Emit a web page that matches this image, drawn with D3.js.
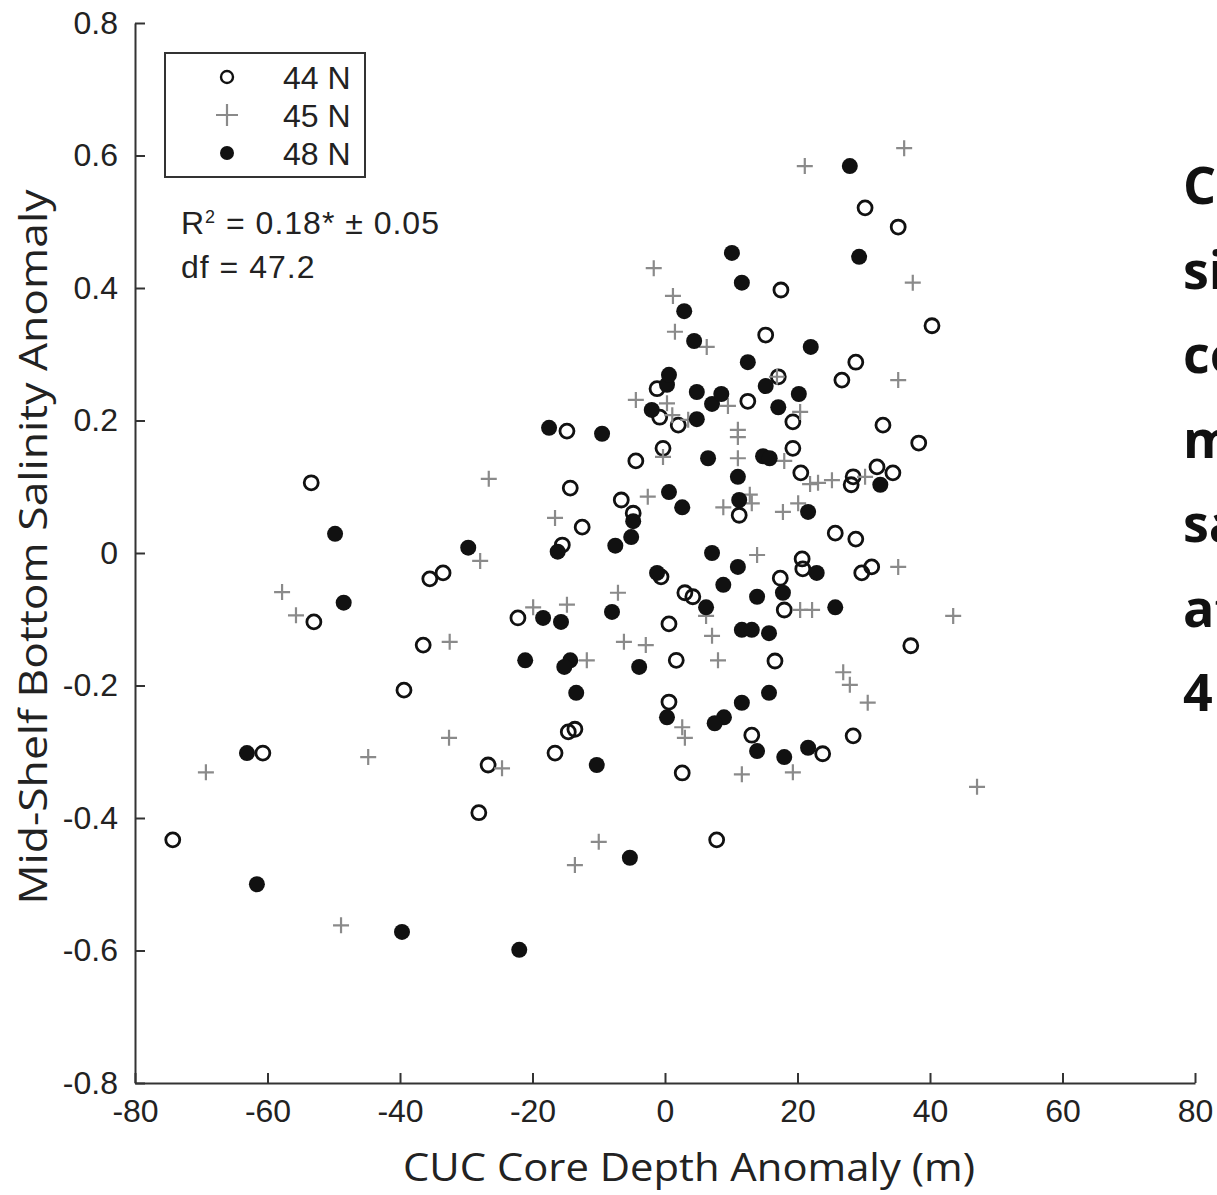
<!DOCTYPE html>
<html>
<head>
<meta charset="utf-8">
<script src="https://cdn.jsdelivr.net/npm/d3@7"></script>
<style>
  body { margin: 0; background: #fff; }
  svg { display: block; }
</style>
</head>
<body>
<svg id="grafico" width="1217" height="1195"></svg>
<script>
// 44 N (open circles)
var depth44 = [-53.4,-53.0,-35.5,-33.5,-36.5,-39.4,-60.7,-26.7,-28.1,-74.3,-22.2,-14.3,-12.5,-15.5,-14.8,-6.6,-4.8,-4.4,-0.3,-0.6,3.0,4.2,0.6,1.7,0.6,2.6,-14.6,-13.6,-16.6,-1.2,-0.8,2.0,12.5,19.3,17.1,15.2,17.5,19.3,20.5,11.2,20.7,20.8,17.4,18.0,16.6,13.1,23.8,28.4,37.1,29.7,31.2,25.7,28.8,28.1,28.4,32.0,34.4,32.9,38.3,26.7,28.8,40.3,30.2,35.2,7.8];
var sal44 = [0.106,-0.104,-0.039,-0.030,-0.139,-0.207,-0.302,-0.320,-0.392,-0.433,-0.098,0.098,0.039,0.012,0.184,0.080,0.060,0.139,0.158,-0.036,-0.060,-0.066,-0.107,-0.162,-0.225,-0.332,-0.270,-0.266,-0.302,0.248,0.205,0.193,0.229,0.198,0.266,0.329,0.397,0.158,0.121,0.057,-0.009,-0.024,-0.038,-0.086,-0.163,-0.275,-0.303,-0.276,-0.140,-0.030,-0.021,0.030,0.021,0.103,0.115,0.130,0.121,0.193,0.166,0.261,0.288,0.343,0.521,0.492,-0.433];

// 45 N (grey plus)
var depth45 = [-26.6,-27.9,-57.8,-55.7,-32.5,-32.6,-69.3,-44.8,-24.6,-48.9,-16.6,-19.9,-14.8,-11.8,-7.1,-6.2,-2.9,-2.6,-13.6,-10.0,2.6,3.0,11.6,19.3,7.1,8.0,6.2,13.9,20.4,22.2,26.9,27.9,30.6,35.2,43.5,47.1,8.8,12.8,13.1,17.8,20.1,18.0,11.0,11.0,11.0,-0.3,21.9,23.1,25.2,30.2,20.4,9.5,0.3,1.1,3.5,-4.4,16.9,6.3,1.5,1.2,-1.7,21.1,36.1,37.4,35.2];
var sal45 = [0.112,-0.012,-0.059,-0.094,-0.134,-0.279,-0.331,-0.308,-0.325,-0.562,0.053,-0.082,-0.078,-0.162,-0.060,-0.134,-0.139,0.085,-0.471,-0.436,-0.263,-0.279,-0.334,-0.331,-0.125,-0.162,-0.095,-0.003,-0.086,-0.086,-0.180,-0.199,-0.226,-0.021,-0.095,-0.353,0.069,0.088,0.075,0.062,0.075,0.139,0.143,0.186,0.175,0.145,0.104,0.106,0.110,0.115,0.213,0.222,0.226,0.208,0.201,0.231,0.266,0.311,0.334,0.388,0.430,0.584,0.611,0.408,0.261];

// 48 N (filled circles)
var depth48 = [-49.8,-48.5,-29.7,-63.1,-61.6,-39.7,-22.0,-17.5,-9.5,-16.2,-7.5,-5.1,-4.8,-21.1,-14.3,-15.2,-18.4,-15.7,-13.4,-10.3,-8.0,-3.9,-5.3,-1.2,0.6,2.6,7.1,11.0,8.8,6.2,13.9,17.8,22.9,11.6,13.1,15.7,25.7,15.7,11.6,0.3,8.9,7.5,13.9,18.0,21.6,11.2,21.6,11.0,6.5,14.8,15.8,-2.0,4.8,7.1,17.1,20.2,15.2,8.5,4.8,0.3,0.6,12.5,22.0,4.4,2.9,10.1,11.6,29.3,27.9,32.5];
var sal48 = [0.029,-0.075,0.008,-0.302,-0.500,-0.572,-0.599,0.189,0.180,0.002,0.011,0.024,0.048,-0.162,-0.162,-0.172,-0.098,-0.104,-0.211,-0.320,-0.089,-0.172,-0.460,-0.030,0.092,0.069,0.000,-0.021,-0.048,-0.082,-0.066,-0.060,-0.030,-0.116,-0.116,-0.121,-0.082,-0.211,-0.226,-0.248,-0.248,-0.257,-0.299,-0.308,-0.294,0.080,0.062,0.115,0.143,0.146,0.143,0.216,0.202,0.225,0.220,0.240,0.252,0.240,0.243,0.254,0.269,0.288,0.311,0.320,0.365,0.453,0.408,0.447,0.584,0.103];

var xTicks = [-80, -60, -40, -20, 0, 20, 40, 60, 80];
var yTicks = [-0.8, -0.6, -0.4, -0.2, 0, 0.2, 0.4, 0.6, 0.8];
var yTickLabels = ["-0.8", "-0.6", "-0.4", "-0.2", "0", "0.2", "0.4", "0.6", "0.8"];
var legendLabels = ["44 N", "45 N", "48 N"];
var statsLines = ["= 0.18* \u00b1 0.05", "df = 47.2"];
var sideText = ["C", "si", "co", "m", "sa", "at", "4"];

var svg = d3.select("#grafico");

var x = d3.scaleLinear().domain([-80, 80]).range([135, 1195]);
var y = d3.scaleLinear().domain([-0.8, 0.8]).range([1083, 23]);

var FONTE = "'Liberation Sans', Arial, sans-serif";
var TAM = "32px";

// eixos
var eixoX = svg.append("g")
    .attr("transform", "translate(0,1083)")
    .call(d3.axisBottom(x).tickValues(xTicks).tickSizeInner(-10).tickSizeOuter(0)
        .tickPadding(16).tickFormat(function(d) { return d; }));
var eixoY = svg.append("g")
    .attr("transform", "translate(135,0)")
    .call(d3.axisLeft(y).tickValues(yTicks).tickSizeInner(-10).tickSizeOuter(0)
        .tickPadding(17).tickFormat(function(d, i) { return yTickLabels[i]; }));

[eixoX, eixoY].forEach(function(eixo) {
    eixo.select(".domain").attr("stroke", "#333").attr("stroke-width", 2);
    eixo.selectAll(".tick line").attr("stroke", "#333").attr("stroke-width", 2);
    eixo.selectAll(".tick text")
        .attr("fill", "#222")
        .style("font-family", FONTE)
        .style("font-size", TAM);
});
eixoX.selectAll(".tick text").attr("dy", "0.71em");

// rotulos dos eixos
svg.append("text")
    .attr("x", 689)
    .attr("y", 1181)
    .attr("text-anchor", "middle")
    .attr("textLength", 572)
    .attr("lengthAdjust", "spacingAndGlyphs")
    .style("font-family", "'Open Sans', sans-serif")
    .style("font-size", "38px")
    .attr("fill", "#222")
    .text("CUC Core Depth Anomaly (m)");

svg.append("text")
    .attr("transform", "translate(47,547) rotate(-90)")
    .attr("text-anchor", "middle")
    .attr("textLength", 715)
    .attr("lengthAdjust", "spacingAndGlyphs")
    .style("font-family", "'Open Sans', sans-serif")
    .style("font-size", "38px")
    .attr("fill", "#222")
    .text("Mid-Shelf Bottom Salinity Anomaly");

// pontos
var R = 7;
var pontos = svg.append("g");

pontos.selectAll(".p44")
    .data(d3.range(depth44.length))
    .enter().append("circle")
    .attr("class", "p44")
    .attr("cx", function(i) { return x(depth44[i]); })
    .attr("cy", function(i) { return y(sal44[i]); })
    .attr("r", R)
    .attr("fill", "none")
    .attr("stroke", "#111")
    .attr("stroke-width", 2.8);

pontos.selectAll(".p45")
    .data(d3.range(depth45.length))
    .enter().append("path")
    .attr("class", "p45")
    .attr("transform", function(i) { return "translate(" + x(depth45[i]) + "," + y(sal45[i]) + ")"; })
    .attr("d", "M-8,0H8M0,-8V8")
    .attr("fill", "none")
    .attr("stroke", "#8a8a8a")
    .attr("stroke-width", 2.2);

pontos.selectAll(".p48")
    .data(d3.range(depth48.length))
    .enter().append("circle")
    .attr("class", "p48")
    .attr("cx", function(i) { return x(depth48[i]); })
    .attr("cy", function(i) { return y(sal48[i]); })
    .attr("r", R + 1)
    .attr("fill", "#111");

// legenda
var legenda = svg.append("g");
legenda.append("rect")
    .attr("x", 165).attr("y", 53)
    .attr("width", 200).attr("height", 124)
    .attr("fill", "#fff")
    .attr("stroke", "#333")
    .attr("stroke-width", 2);

var linhasLegenda = [77, 115, 153];
legenda.append("circle")
    .attr("cx", 227).attr("cy", linhasLegenda[0]).attr("r", 6)
    .attr("fill", "none").attr("stroke", "#111").attr("stroke-width", 2.4);
legenda.append("path")
    .attr("transform", "translate(227," + linhasLegenda[1] + ")")
    .attr("d", "M-11,0H11M0,-11V11")
    .attr("stroke", "#8a8a8a").attr("stroke-width", 2.2);
legenda.append("circle")
    .attr("cx", 227).attr("cy", linhasLegenda[2]).attr("r", 7)
    .attr("fill", "#111");

legenda.selectAll(".rotulo")
    .data(legendLabels)
    .enter().append("text")
    .attr("class", "rotulo")
    .attr("x", 283)
    .attr("y", function(d, i) { return linhasLegenda[i] + 12; })
    .style("font-family", FONTE)
    .style("font-size", TAM)
    .attr("fill", "#222")
    .text(function(d) { return d; });

// estatistica
var r2 = svg.append("text")
    .attr("x", 181).attr("y", 234)
    .style("font-family", FONTE)
    .style("font-size", TAM)
    .style("letter-spacing", "1px")
    .attr("fill", "#222");
r2.append("tspan").text("R");
r2.append("tspan").attr("dy", -11).style("font-size", "18px").text("2");
r2.append("tspan").attr("dy", 11).text(" " + statsLines[0]);

svg.append("text")
    .attr("x", 181).attr("y", 278)
    .style("font-family", FONTE)
    .style("font-size", TAM)
    .style("letter-spacing", "1px")
    .attr("fill", "#222")
    .text(statsLines[1]);

// texto lateral (cortado na borda, como no original)
svg.selectAll(".lateral")
    .data(sideText)
    .enter().append("text")
    .attr("class", "lateral")
    .attr("x", 1183)
    .attr("y", function(d, i) { return 204 + i * 84.5; })
    .style("font-family", "'Open Sans', sans-serif")
    .style("font-weight", "bold")
    .style("font-size", "52px")
    .attr("fill", "#111")
    .text(function(d) { return d; });
</script>
</body>
</html>
